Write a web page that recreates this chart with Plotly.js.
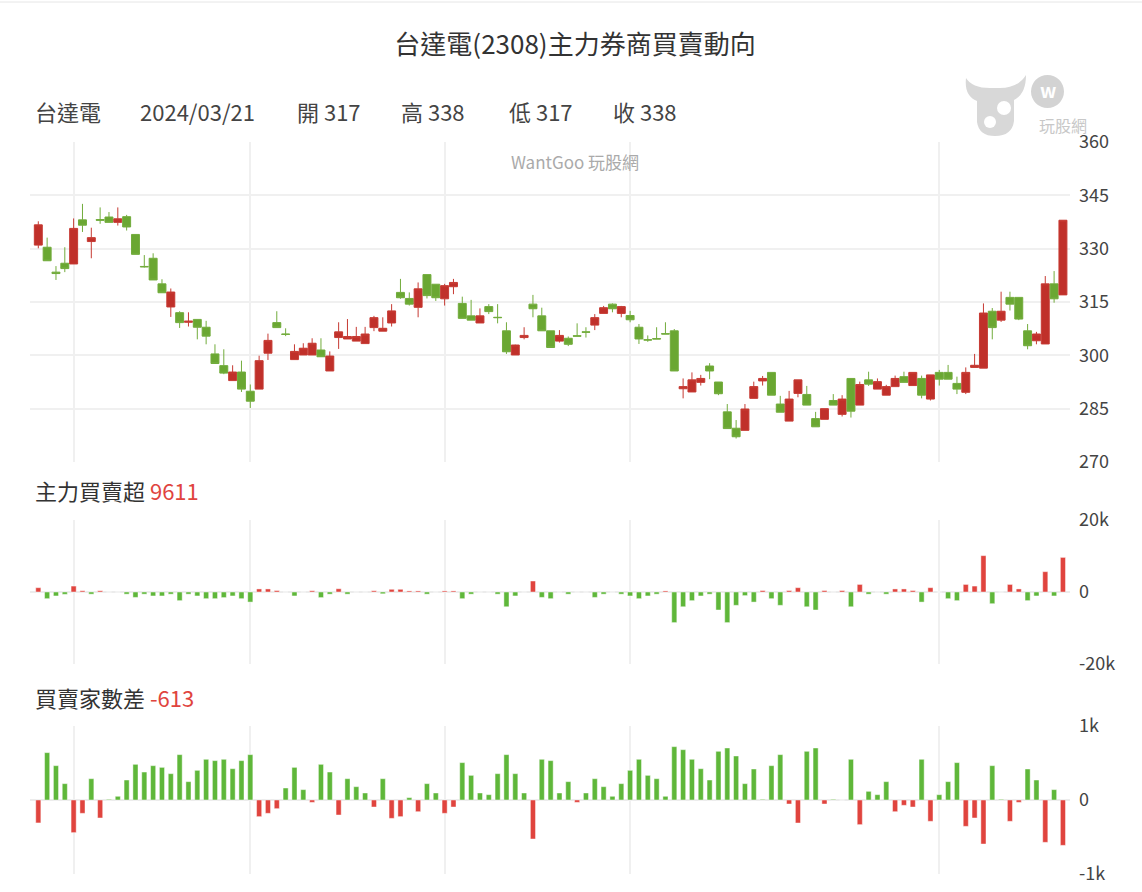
<!DOCTYPE html>
<html><head><meta charset="utf-8">
<script src="https://cdn.plot.ly/plotly-3.0.1.min.js"></script>
<style>html,body{margin:0;padding:0;background:#fff;}#chart{width:1142px;height:892px;}</style>
</head><body><div id="chart"></div>
<script>
// ---------- data ----------
const stockName = '台達電';
const stockCode = '2308';
const lastDate = '2024/03/21';
const monthStartIdx = [4, 24, 46, 67, 102];   // first trading day of Oct, Nov, Dec, Jan, Mar

const openP = [331.0,330.4,323.4,325.9,325.7,338.1,332.0,338.2,338.9,337.4,
 339.0,334.0,325.0,327.3,320.1,313.6,312.0,309.3,310.1,307.9,
 300.4,297.1,292.9,295.3,289.9,290.5,300.6,309.2,306.0,298.8,
 300.1,300.1,301.5,295.6,305.0,304.6,304.0,303.3,307.8,306.8,
 309.1,317.7,316.0,313.5,322.7,320.0,315.9,319.3,314.6,311.1,
 309.1,313.7,310.7,306.9,300.1,305.0,314.4,311.1,306.9,304.0,
 304.8,305.5,306.6,308.5,311.8,314.4,311.8,311.2,307.9,304.4,
 304.7,306.1,306.9,290.6,289.7,292.4,297.0,292.5,284.1,279.5,
 278.9,287.9,292.8,295.2,286.3,281.5,289.3,289.0,282.2,282.0,
 287.3,283.4,293.5,286.0,293.1,290.5,288.8,291.2,294.0,291.5,
 293.5,287.7,295.2,295.2,292.1,289.6,296.6,296.4,312.4,309.9,
 316.3,316.3,306.9,304.1,303.2,320.1,317];
const highP = [337.7,333.1,325.1,330.4,338.5,342.6,335.9,341.6,340.3,341.6,
 339.5,334.0,328.2,328.7,321.4,318.8,312.4,312.1,310.1,309.7,
 303.1,301.7,297.2,298.5,291.8,299.9,306.1,312.4,307.6,303.1,
 303.4,304.8,304.8,301.1,309.3,310.2,308.0,308.0,311.1,310.7,
 314.4,321.5,317.7,320.5,322.7,320.0,320.1,321.5,316.5,315.6,
 313.2,314.4,314.4,309.3,303.0,307.9,317.0,313.4,306.9,307.1,
 305.3,309.0,307.9,311.6,313.9,314.6,313.9,312.5,308.8,305.6,
 307.9,309.3,307.4,293.5,295.2,294.5,297.8,292.5,286.3,281.8,
 286.3,292.6,294.2,295.2,288.6,290.0,293.1,291.4,284.1,285.0,
 289.1,288.8,293.5,292.6,295.4,293.5,291.7,294.3,295.4,295.2,
 294.3,294.5,295.9,297.3,294.0,296.6,300.4,314.6,313.3,317.9,
 317.9,316.3,308.8,306.6,322.3,323.7,338];
const lowP = [330.1,326.6,321.2,323.4,325.7,334.7,327.3,337.0,337.4,336.5,
 335.1,328.4,324.7,321.2,317.6,310.8,307.7,308.1,304.5,303.1,
 297.7,294.7,292.9,289.7,285.2,290.5,298.7,307.8,305.4,298.8,
 300.1,300.1,299.6,295.6,301.8,304.6,304.0,303.3,306.8,306.8,
 308.1,315.9,314.0,310.7,316.0,315.3,314.0,317.2,310.4,309.9,
 309.1,311.6,309.0,300.4,300.1,304.5,310.7,306.9,302.2,303.6,
 302.6,305.4,305.0,307.1,311.8,312.1,310.7,309.3,303.2,303.8,
 304.6,306.0,295.6,287.9,289.7,291.5,293.3,288.8,279.4,276.6,
 278.9,287.9,291.5,288.8,284.0,281.5,288.2,286.0,279.9,282.0,
 286.0,282.8,282.5,286.0,291.4,290.5,288.8,291.2,292.4,291.5,
 287.9,287.3,291.5,293.3,289.1,289.1,296.6,296.4,304.5,309.4,
 312.6,309.9,301.7,303.1,303.2,314.8,317];
const closeP = [336.7,326.6,323.0,324.4,335.7,336.6,333.1,338.0,337.4,338.4,
 336.1,328.4,324.9,321.2,317.6,317.8,309.2,309.6,307.9,305.4,
 297.7,295.0,295.3,290.5,287.1,298.5,304.2,307.8,305.9,301.1,
 302.0,303.4,299.6,299.8,306.6,305.3,305.3,306.0,310.6,307.6,
 312.5,316.2,314.4,318.7,316.8,316.2,319.6,320.5,310.4,309.9,
 311.1,312.3,310.6,301.0,302.9,305.6,313.1,306.9,302.2,305.6,
 303.1,305.4,306.5,310.6,313.4,313.1,313.7,310.0,304.6,304.3,
 304.6,306.0,295.6,291.2,293.1,293.5,295.6,289.2,279.4,277.1,
 284.9,291.2,293.5,288.8,284.0,287.7,293.1,286.0,279.9,285.0,
 286.0,287.7,284.3,291.8,291.9,292.6,291.2,293.5,292.4,295.2,
 288.8,294.5,293.3,293.3,290.5,295.2,297.2,311.9,307.8,312.4,
 314.4,310.2,302.7,306.0,320.1,315.9,338];
// 主力買賣超 (張)
const mainForce = [1200,-1850,-1100,-650,1650,350,-600,350,0,0,
 -600,-1500,-600,-1100,-1100,-600,-2400,-600,-1100,-1850,
 -1850,-1550,-1100,-1850,-2800,850,850,400,0,-1100,
 0,350,-1550,-600,900,-600,0,0,350,-500,
 750,750,300,300,-600,0,300,300,-1850,-600,
 0,0,-600,-4100,-1100,0,3050,-1500,-1850,0,
 -600,0,0,-1500,-600,0,-600,-1100,-1850,-1100,
 -600,300,-8500,-4100,-2400,-1100,-600,-5000,-8500,-3700,
 -1000,-2800,400,-1850,-3700,400,1200,-4100,-5000,400,
 0,400,-4100,2100,-600,0,-600,850,850,400,
 -2800,1200,0,-1850,-2400,2100,1650,10100,-3250,0,
 2100,850,-2400,-1100,5650,-1100,9611];
// 買賣家數差
const brokerDiff = [-310,640,464,221,-441,-180,288,-243,9,50,
 270,482,378,464,441,356,613,248,401,550,
 532,550,423,532,613,-225,-180,-117,162,441,
 140,-32,482,378,-203,288,180,95,-95,288,
 -248,-225,32,-158,221,95,-180,-95,505,333,
 95,72,356,613,356,95,-527,550,532,95,
 248,-32,95,288,180,50,221,401,550,333,
 288,50,721,680,550,423,270,658,703,595,
 221,419,9,464,613,-54,-311,658,703,-54,
 9,0,550,-333,117,72,248,-158,-72,-95,
 550,-288,72,248,505,-356,-243,-595,464,9,
 -288,-32,419,270,-572,140,-613];
const priceTicks = [270,285,300,315,330,345,360];
const mfTicks = [-20000,0,20000], mfTickText = ['-20k','0','20k'];
const bdTicks = [-1000,0,1000], bdTickText = ['-1k','0','1k'];

// ---------- style ----------
const W = 1142, H = 892;
const F = '"Noto Sans CJK TC", "Noto Sans", sans-serif';
const RED = '#e0443e', GREEN = '#5fb73a';
const CRED = '#c0302a', CGREEN = '#6aa732';
const GRID = '#f0f0f0';
const px = x => x / W, py = y => 1 - y / H;
const dom = (top, bot) => [py(bot), py(top)];
const xDom = [px(30), px(1070)];
const idx = openP.map((_, i) => i);
const n = idx.length;
const xr = [-0.94, n - 0.2];

const traces = [
  {type:'candlestick', x: idx, open: openP, high: highP, low: lowP, close: closeP,
   xaxis:'x', yaxis:'y', whiskerwidth:0, hoverinfo:'skip',
   increasing:{line:{color:'#c63a33', width:1}, fillcolor: CRED},
   decreasing:{line:{color:'#72ac3c', width:1}, fillcolor: CGREEN}},
  {type:'bar', x: idx, y: mainForce, xaxis:'x2', yaxis:'y2', width:0.58, hoverinfo:'skip',
   marker:{color: mainForce.map(v => v >= 0 ? RED : GREEN), line:{width:1, color:'rgba(255,255,255,0.45)'}}},
  {type:'bar', x: idx, y: brokerDiff, xaxis:'x3', yaxis:'y3', width:0.58, hoverinfo:'skip',
   marker:{color: brokerDiff.map(v => v >= 0 ? GREEN : RED), line:{width:1, color:'rgba(255,255,255,0.45)'}}}
];

function xa(anchor) {
  return {domain: xDom, range: xr, anchor: anchor, tickvals: monthStartIdx, showticklabels:false,
    ticks:'', showgrid:true, gridcolor: GRID, gridwidth:2, zeroline:false, showline:false,
    fixedrange:true, rangeslider:{visible:false}};
}
function ya(anchor, d, range, tv, tt) {
  const o = {domain: d, range: range, anchor: anchor, side:'right', tickvals: tv, ticks:'',
    showgrid:true, gridcolor: GRID, gridwidth:2, zeroline:true, zerolinecolor:'#ececec', zerolinewidth:2,
    showline:false, fixedrange:true, ticklabelstandoff: 8,
    tickfont:{family: F, size:18, color:'#444'}};
  if (tt) o.ticktext = tt;
  return o;
}

const last = n - 1;
const hdrY = py(111);
const ann = [];
function txt(x, y, text, size, color, anchor) {
  ann.push({xref:'paper', yref:'paper', x: px(x), y: y, text: text, showarrow:false,
    xanchor: anchor || 'left', yanchor:'middle', font:{family:F, size:size, color:color}});
}
txt(33, hdrY, stockName, 22, '#444');
txt(138, hdrY, lastDate, 22, '#444');
txt(295, hdrY, '開 ' + Math.round(openP[last]), 22, '#444');
txt(399, hdrY, '高 ' + Math.round(highP[last]), 22, '#444');
txt(507, hdrY, '低 ' + Math.round(lowP[last]), 22, '#444');
txt(611, hdrY, '收 ' + Math.round(closeP[last]), 22, '#444');
txt(575, py(162), 'WantGoo 玩股網', 17, '#aaaaaa', 'center');
txt(33, py(490), '主力買賣超 <span style="color:' + RED + '">' + mainForce[last] + '</span>', 22, '#333');
txt(33, py(697), '買賣家數差 <span style="color:' + RED + '">' + brokerDiff[last] + '</span>', 22, '#333');
txt(1063, py(125), '玩股網', 16, '#c8c8c8', 'center');
txt(1048, py(90), '<b>w</b>', 19, '#ffffff', 'center');

// logo mascot (decoration)
const P = (x, y) => px(x) + ',' + py(y);
const headPath = 'M ' + P(966,78) + ' Q ' + P(964,96) + ' ' + P(977,101) +
  ' L ' + P(977,122) + ' Q ' + P(979,136) + ' ' + P(995,136) +
  ' Q ' + P(1012,136) + ' ' + P(1014,121) + ' L ' + P(1014,100) +
  ' Q ' + P(1026,94) + ' ' + P(1026,75) + ' Q ' + P(1018,88) + ' ' + P(1000,88) +
  ' L ' + P(990,88) + ' Q ' + P(972,88) + ' ' + P(966,78) + ' Z';
const shapes = [
  {type:'line', xref:'paper', yref:'paper', x0:0, x1:1, y0:py(2), y1:py(2), line:{color:'#e6e6e6', width:1}},
  {type:'path', xref:'paper', yref:'paper', path: headPath, fillcolor:'#d8d8d8', line:{width:0}},
  {type:'circle', xref:'paper', yref:'paper', x0:px(997), x1:px(1011), y0:py(115), y1:py(101), fillcolor:'#ffffff', line:{width:0}},
  {type:'circle', xref:'paper', yref:'paper', x0:px(984), x1:px(996), y0:py(128), y1:py(116), fillcolor:'#ffffff', line:{width:0}},
  {type:'circle', xref:'paper', yref:'paper', x0:px(1031), x1:px(1064), y0:py(108), y1:py(75), fillcolor:'#d3d3d3', line:{width:0}}
];

const layout = {
  width: W, height: H, margin:{l:0, r:0, t:0, b:0},
  paper_bgcolor:'#fff', plot_bgcolor:'#fff', showlegend:false, hovermode:false, dragmode:false,
  boxgap: 0.1, boxgroupgap: 0,
  title:{text: stockName + '(' + stockCode + ')主力券商買賣動向', font:{family:F, size:26, color:'#333'},
    x: px(575), xanchor:'center', y: py(45), yanchor:'middle', yref:'container', xref:'container'},
  xaxis: xa('y'), xaxis2: xa('y2'), xaxis3: xa('y3'),
  yaxis: ya('x', dom(142, 462), [270, 360], priceTicks),
  yaxis2: ya('x2', dom(520, 664), [-20000, 20000], mfTicks, mfTickText),
  yaxis3: ya('x3', dom(726, 874), [-1000, 1000], bdTicks, bdTickText),
  annotations: ann, shapes: shapes
};
layout.yaxis.zeroline = false;

Plotly.newPlot('chart', traces, layout, {displayModeBar:false, staticPlot:true});
</script>
</body></html>
